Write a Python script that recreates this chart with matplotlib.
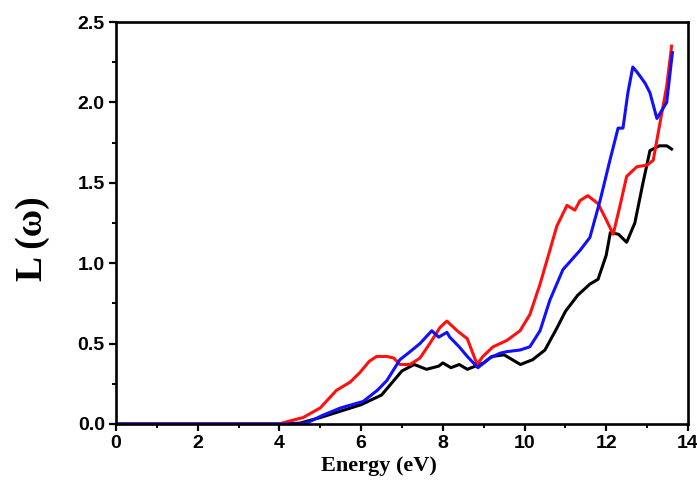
import numpy as np
import matplotlib.pyplot as plt

# values
black_x = [0, 1, 2, 3, 4, 4.5, 5.0, 5.5, 6.0, 6.5, 6.8, 7.0, 7.3, 7.6, 7.9, 8.0, 8.2, 8.4, 8.6,
           8.8, 9.0, 9.2, 9.5, 9.7, 9.9, 10.2, 10.5, 10.8, 11.0, 11.3, 11.6, 11.8, 12.0, 12.1,
           12.3, 12.5, 12.7, 12.9, 13.07, 13.3, 13.48, 13.6]
black_y = [0, 0, 0, 0, 0, 0.005, 0.04, 0.08, 0.12, 0.18, 0.27, 0.33, 0.37, 0.34, 0.36, 0.38, 0.35,
           0.37, 0.34, 0.36, 0.38, 0.42, 0.43, 0.40, 0.37, 0.40, 0.46, 0.60, 0.70, 0.80, 0.87,
           0.90, 1.05, 1.19, 1.18, 1.13, 1.25, 1.50, 1.70, 1.73, 1.73, 1.71]

blue_x = [0, 1, 2, 3, 4, 4.5, 4.7, 5.07, 5.5, 6.05, 6.2, 6.4, 6.63, 6.95, 7.2, 7.44, 7.73, 7.9,
          8.1, 8.17, 8.4, 8.6, 8.86, 9.15, 9.4, 9.57, 9.89, 10.13, 10.38, 10.62, 10.94, 11.36,
          11.6, 11.85, 12.09, 12.29, 12.41, 12.53, 12.65, 12.78, 12.95, 13.07, 13.24, 13.48,
          13.62]
blue_y = [0, 0, 0, 0, 0, 0.0, 0.01, 0.055, 0.10, 0.14, 0.17, 0.21, 0.27, 0.40, 0.45, 0.50, 0.58,
          0.54, 0.57, 0.54, 0.48, 0.42, 0.35, 0.41, 0.44, 0.45, 0.46, 0.48, 0.58, 0.77, 0.96,
          1.08, 1.16, 1.39, 1.64, 1.84, 1.84, 2.06, 2.22, 2.18, 2.12, 2.06, 1.90, 2.00, 2.31]

red_x = [0, 1, 2, 3, 4, 4.2, 4.58, 5.0, 5.4, 5.73, 5.97, 6.2, 6.38, 6.63, 6.8, 6.95, 7.2, 7.44,
         7.68, 7.93, 8.1, 8.35, 8.6, 8.84, 8.98, 9.23, 9.57, 9.89, 10.13, 10.38, 10.62, 10.79,
         11.04, 11.23, 11.36, 11.55, 11.8, 12.0, 12.17, 12.33, 12.5, 12.75, 13.0, 13.15, 13.3,
         13.48, 13.6]
red_y = [0, 0, 0, 0, 0, 0.015, 0.04, 0.10, 0.21, 0.26, 0.32, 0.39, 0.42, 0.42, 0.41, 0.37, 0.37,
         0.41, 0.50, 0.60, 0.64, 0.58, 0.53, 0.37, 0.42, 0.48, 0.52, 0.58, 0.68, 0.87, 1.08,
         1.23, 1.36, 1.33, 1.39, 1.42, 1.37, 1.27, 1.18, 1.35, 1.54, 1.60, 1.61, 1.64, 1.85,
         2.10, 2.35]

fig = plt.figure(figsize=(6.97, 4.87), dpi=100)
ax = fig.add_axes([0.1664, 0.1294, 0.8206, 0.8254])

ax.plot(black_x, black_y, color='black', lw=2.2)
ax.plot(red_x, red_y, color='#ff1010', lw=2.2)
ax.plot(blue_x, blue_y, color='#1010ff', lw=2.2)

ax.set_xlim(0, 14)
ax.set_ylim(0, 2.5)
ax.set_xticks(np.arange(0, 15, 2))
ax.set_xticks(np.arange(1, 14, 2), minor=True)
ax.set_yticks(np.arange(0, 2.51, 0.5))
ax.set_yticks(np.arange(0.25, 2.5, 0.5), minor=True)
ax.set_yticklabels(['0.0', '0.5', '1.0', '1.5', '2.0', '2.5'])

for s in ax.spines.values():
    s.set_linewidth(1.9)
ax.tick_params(which='major', direction='out', length=5, width=1.6, pad=3)
ax.tick_params(which='minor', direction='out', length=3, width=1.4)
for lab in ax.get_xticklabels() + ax.get_yticklabels():
    lab.set_fontfamily('Liberation Sans')
    lab.set_fontweight('bold')
    lab.set_fontsize(14)

ax.set_xlabel('Energy (eV)', fontfamily='Liberation Serif', fontweight='bold', fontsize=16)
ax.set_ylabel('L (ω)', fontfamily='Liberation Serif', fontweight='bold', fontsize=27)
ax.xaxis.set_label_coords(0.46, -0.08)
ax.yaxis.set_label_coords(-0.115, 0.46)

fig.savefig('out.png', dpi=100)
